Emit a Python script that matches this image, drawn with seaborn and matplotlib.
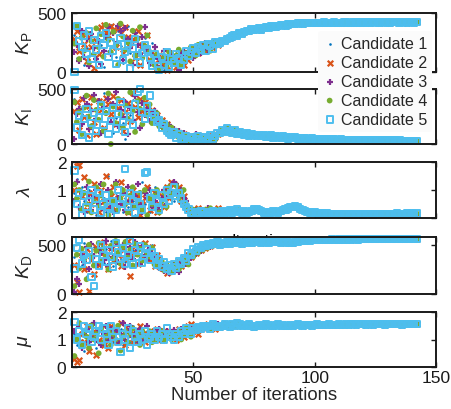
import numpy as np
import pandas as pd
import matplotlib
matplotlib.use("Agg")
import matplotlib.pyplot as plt
import seaborn as sns

# -------------------------------------------
# Values
# iterations 1..60 : each candidate separately
# iterations 61..142 : the five candidates sit on one common track
# -------------------------------------------
candidates = ["Candidate 1", "Candidate 2", "Candidate 3", "Candidate 4", "Candidate 5"]

# K_P
kp_c1 = [310, 120, 380, 250, 60, 200, 340, 150, 280, 90,
         360, 230, 40, 310, 180, 400, 270, 130, 350, 220,
         80, 300, 390, 160, 240, 330, 110, 370, 200, 290,
         140, 60, 250, 120, 40, 90, 150, 20, 70, 130,
         50, 100, 160, 60, 110, 140, 90, 170, 130, 190,
         150, 200, 180, 210, 170, 220, 200, 230, 215, 240]
kp_c2 = [280, 350, 180, 320, 240, 90, 300, 210, 30, 260,
         150, 380, 400, 340, 310, 390, 360, 210, 370, 330,
         160, 380, 300, 250, 280, 120, 350, 60, 230, 190,
         310, 100, 170, 80, 30, 140, 60, 110, 20, 160,
         90, 130, 40, 120, 170, 60, 150, 100, 180, 140,
         200, 160, 190, 230, 180, 210, 250, 200, 240, 225]
kp_c3 = [170, 230, 90, 350, 130, 280, 50, 320, 200, 110,
         260, 70, 180, 300, 380, 150, 330, 240, 390, 350,
         100, 370, 280, 200, 60, 330, 230, 150, 300, 380,
         190, 80, 140, 210, 50, 110, 30, 180, 90, 130,
         160, 70, 100, 20, 140, 180, 110, 150, 200, 120,
         170, 220, 160, 200, 250, 190, 230, 210, 260, 235]
kp_c4 = [240, 390, 110, 290, 180, 330, 80, 260, 150, 370,
         210, 320, 130, 400, 270, 170, 340, 230, 60, 410,
         300, 190, 250, 90, 350, 140, 280, 380, 120, 220,
         310, 170, 100, 60, 150, 30, 90, 120, 50, 170,
         110, 70, 140, 190, 60, 100, 160, 130, 210, 170,
         140, 230, 190, 170, 240, 210, 180, 250, 220, 245]
kp_c5 = [0, 390, 260, 210, 310, 150, 350, 110, 270, 190,
         60, 300, 230, 330, 130, 250, 180, 70, 220, 290,
         100, 170, 240, 30, 200, 280, 140, 80, 160, 230,
         190, 120, 50, 150, 100, 20, 130, 60, 170, 40,
         110, 80, 150, 120, 60, 100, 180, 140, 170, 200,
         160, 210, 190, 230, 180, 240, 220, 200, 250, 235]
kp_tail = [250, 265, 260, 280, 290, 300, 315, 310, 330, 325,
           340, 350, 345, 360, 355, 365, 372, 360, 375, 380,
           378, 386, 390, 382, 388, 395, 400, 394, 402, 405,
           410, 406, 412, 415, 411, 414, 417, 413, 416, 418,
           415, 413, 417, 419, 416, 414, 418, 420, 417, 415,
           418, 421, 419, 416, 418, 420, 422, 419, 417, 420,
           422, 420, 418, 421, 423, 420, 418, 421, 422, 420,
           419, 421, 423, 421, 420, 422, 421, 419, 421, 422,
           420, 421]

# K_I
ki_c1 = [410, 120, 350, 270, 60, 440, 300, 180, 390, 220,
         80, 330, 460, 150, 280, 370, 100, 240, 420, 310,
         190, 50, 360, 260, 400, 140, 320, 230, 380, 290,
         250, 330, 210, 280, 170, 230, 140, 190, 110, 150,
         90, 120, 70, 100, 60, 80, 50, 70, 40, 60,
         80, 50, 70, 40, 60, 90, 50, 70, 60, 80]
ki_c2 = [300, 380, 130, 410, 250, 80, 350, 430, 200, 90,
         390, 310, 150, 420, 360, 270, 440, 180, 330, 400,
         120, 290, 370, 210, 460, 340, 250, 410, 300, 380,
         350, 280, 310, 230, 260, 190, 220, 150, 180, 120,
         140, 100, 120, 80, 60, 90, 40, 70, 30, 60,
         50, 80, 40, 60, 30, 70, 50, 40, 60, 90]
ki_c3 = [50, 270, 320, 180, 420, 360, 140, 300, 450, 230,
         390, 100, 340, 280, 410, 200, 360, 470, 160, 310,
         250, 380, 90, 330, 220, 440, 290, 150, 370, 260,
         320, 210, 270, 300, 190, 240, 160, 200, 130, 170,
         110, 140, 90, 120, 70, 100, 60, 80, 50, 70,
         90, 60, 40, 70, 50, 80, 60, 40, 70, 100]
ki_c4 = [380, 200, 290, 90, 330, 440, 250, 160, 400, 310,
         220, 370, 120, 280, 460, 0, 340, 190, 410, 270,
         150, 350, 230, 470, 300, 110, 390, 320, 180, 420,
         260, 360, 190, 240, 280, 160, 210, 130, 180, 100,
         150, 80, 120, 60, 100, 40, 80, 30, 60, 20,
         50, 70, 30, 60, 40, 20, 50, 70, 40, 80]
ki_c5 = [490, 150, 260, 80, 230, 320, 60, 190, 280, 120,
         240, 350, 170, 300, 90, 210, 330, 140, 270, 380,
         200, 110, 310, 250, 170, 360, 470, 500, 290, 230,
         340, 440, 280, 250, 200, 220, 150, 180, 120, 100,
         80, 110, 60, 90, 50, 40, 70, 30, 60, 50,
         40, 70, 30, 50, 60, 40, 80, 50, 70, 100]
ki_tail = [100, 130, 110, 140, 115, 100, 125, 95, 110, 90,
           85, 100, 75, 90, 80, 70, 85, 72, 78, 65,
           70, 78, 60, 72, 65, 55, 68, 60, 50, 62,
           55, 60, 50, 45, 55, 50, 45, 40, 50, 45,
           40, 45, 38, 42, 40, 36, 44, 40, 38, 35,
           40, 37, 35, 39, 36, 34, 38, 35, 33, 36,
           34, 32, 35, 33, 31, 34, 32, 30, 33, 31,
           30, 32, 31, 29, 31, 30, 28, 30, 29, 30,
           28, 29]

# lambda
lam_c1 = [0.9, 1.4, 0.3, 1.1, 0.6, 0.2, 1.0, 0.5, 0.8, 0.1,
          1.2, 0.4, 0.7, 0.2, 1.5, 0.6, 0.3, 0.9, 0.5, 1.1,
          0.2, 0.7, 0.4, 1.0, 0.6, 0.1, 0.8, 0.3, 1.3, 0.5,
          0.9, 0.2, 0.6, 1.1, 0.4, 0.7, 1.0, 0.5, 0.8, 1.2,
          0.9, 0.6, 1.1, 0.8, 1.0, 0.7, 0.5, 0.3, 0.2, 0.25,
          0.15, 0.3, 0.2, 0.1, 0.25, 0.2, 0.3, 0.15, 0.2, 0.25]
lam_c2 = [1.0, 1.85, 1.9, 0.8, 1.45, 0.3, 0.9, 0.5, 1.2, 0.7,
          0.2, 1.0, 0.6, 1.5, 0.4, 0.8, 1.1, 0.3, 0.7, 1.3,
          0.5, 0.9, 0.2, 0.6, 1.0, 0.4, 0.8, 0.1, 0.5, 0.7,
          1.1, 0.3, 0.6, 0.9, 0.2, 0.5, 0.8, 0.4, 1.1, 0.7,
          1.3, 1.2, 0.9, 1.1, 0.6, 0.8, 0.4, 0.3, 0.2, 0.3,
          0.2, 0.35, 0.25, 0.15, 0.3, 0.2, 0.25, 0.3, 0.2, 0.35]
lam_c3 = [0.6, 1.3, 0.4, 0.9, 0.2, 1.1, 0.7, 0.3, 0.8, 1.0,
          0.5, 1.2, 0.3, 0.6, 1.0, 0.4, 0.2, 1.3, 0.7, 0.5,
          0.9, 0.3, 1.1, 0.6, 0.4, 0.8, 1.2, 0.5, 0.2, 0.9,
          0.7, 1.0, 0.4, 0.6, 0.9, 0.3, 0.7, 1.0, 0.5, 0.8,
          1.0, 1.3, 1.2, 0.9, 1.0, 0.7, 0.6, 0.4, 0.3, 0.2,
          0.3, 0.25, 0.15, 0.3, 0.2, 0.35, 0.25, 0.2, 0.3, 0.25]
lam_c4 = [1.2, 0.7, 1.0, 0.3, 0.9, 0.5, 1.3, 0.2, 0.6, 1.1,
          0.4, 0.8, 1.2, 0.5, 0.1, 0.9, 0.6, 1.2, 0.3, 0.7,
          1.0, 0.5, 0.2, 0.8, 1.1, 0.4, 0.6, 0.9, 0.3, 1.0,
          0.1, 0.7, 0.5, 0.8, 1.0, 0.2, 0.6, 0.9, 0.4, 1.1,
          0.8, 0.9, 1.15, 0.7, 0.9, 1.0, 0.5, 0.35, 0.2, 0.3,
          0.2, 0.3, 0.15, 0.25, 0.3, 0.2, 0.35, 0.25, 0.2, 0.3]
lam_c5 = [1.7, 0.5, 0.9, 0.1, 0.8, 0.4, 0.6, 1.0, 0.3, 0.7,
          0.9, 0.2, 0.5, 0.8, 0.4, 0.1, 0.6, 0.3, 1.0, 0.5,
          0.7, 1.75, 0.4, 0.9, 0.6, 0.2, 0.8, 0.5, 0.3, 1.6,
          1.65, 0.7, 0.4, 0.9, 0.6, 0.3, 0.8, 0.5, 1.0, 0.6,
          0.9, 1.1, 0.8, 0.9, 0.7, 0.5, 0.4, 0.3, 0.2, 0.1,
          0.2, 0.15, 0.25, 0.2, 0.1, 0.2, 0.15, 0.25, 0.2, 0.2]
lam_tail = [0.2, 0.25, 0.18, 0.22, 0.28, 0.2, 0.24, 0.3, 0.22, 0.18,
            0.25, 0.2, 0.22, 0.26, 0.3, 0.32, 0.28, 0.24, 0.2, 0.22,
            0.18, 0.2, 0.24, 0.22, 0.2, 0.25, 0.28, 0.3, 0.34, 0.38,
            0.4, 0.42, 0.38, 0.33, 0.28, 0.24, 0.22, 0.2, 0.18, 0.2,
            0.17, 0.16, 0.18, 0.15, 0.16, 0.14, 0.15, 0.13, 0.14, 0.15,
            0.13, 0.14, 0.12, 0.13, 0.14, 0.12, 0.13, 0.14, 0.13, 0.12,
            0.13, 0.14, 0.13, 0.12, 0.13, 0.14, 0.15, 0.14, 0.13, 0.14,
            0.15, 0.14, 0.15, 0.16, 0.15, 0.14, 0.15, 0.16, 0.15, 0.16,
            0.15, 0.16]

# K_D
kd_c1 = [380, 250, 450, 300, 520, 180, 410, 350, 480, 270,
         430, 510, 320, 460, 390, 540, 280, 420, 500, 360,
         470, 330, 520, 400, 450, 310, 490, 380, 530, 420,
         460, 350, 500, 410, 290, 380, 330, 260, 300, 240,
         280, 320, 260, 350, 300, 380, 340, 410, 390, 450,
         430, 470, 460, 490, 480, 500, 490, 510, 505, 520]
kd_c2 = [300, 120, 20, 400, 250, 460, 30, 350, 200, 480,
         300, 420, 530, 380, 250, 470, 340, 510, 400, 290,
         450, 360, 540, 180, 420, 490, 310, 460, 380, 520,
         430, 350, 480, 280, 400, 330, 260, 300, 210, 280,
         240, 310, 270, 330, 290, 360, 320, 400, 380, 430,
         420, 460, 450, 480, 470, 500, 490, 520, 500, 515]
kd_c3 = [20, 150, 100, 400, 330, 480, 250, 510, 390, 300,
         460, 420, 350, 540, 290, 470, 380, 520, 330, 440,
         500, 270, 410, 480, 360, 530, 450, 310, 490, 400,
         350, 470, 420, 380, 320, 260, 300, 230, 280, 210,
         250, 300, 270, 220, 320, 350, 310, 390, 370, 440,
         410, 460, 440, 490, 470, 500, 480, 510, 495, 520]
kd_c4 = [80, 400, 260, 460, 350, 150, 500, 380, 290, 440,
         520, 330, 470, 400, 250, 490, 360, 540, 420, 310,
         480, 530, 370, 450, 290, 510, 400, 460, 340, 500,
         420, 380, 470, 300, 350, 280, 330, 240, 300, 260,
         220, 290, 310, 250, 280, 330, 360, 300, 400, 380,
         440, 420, 470, 450, 490, 470, 510, 490, 500, 525]
kd_c5 = [260, 470, 550, 310, 400, 350, 440, 170, 80, 360,
         290, 500, 400, 330, 450, 380, 280, 520, 430, 360,
         470, 310, 400, 540, 300, 450, 380, 490, 320, 420,
         460, 350, 430, 390, 300, 350, 280, 320, 260, 290,
         240, 300, 270, 330, 310, 370, 340, 420, 400, 460,
         440, 480, 470, 500, 490, 510, 500, 520, 510, 525]
kd_tail = [500, 520, 510, 530, 505, 525, 515, 535, 520, 510,
           530, 540, 525, 515, 535, 545, 530, 520, 540, 535,
           525, 540, 530, 545, 535, 520, 530, 540, 525, 515,
           520, 530, 535, 540, 545, 540, 548, 545, 550, 548,
           552, 550, 548, 553, 550, 552, 555, 552, 550, 554,
           556, 553, 555, 557, 554, 556, 558, 555, 557, 556,
           558, 557, 559, 556, 558, 560, 557, 559, 558, 560,
           559, 561, 558, 560, 559, 561, 560, 559, 561, 560,
           561, 560]

# mu
mu_c1 = [1.2, 0.8, 1.5, 1.0, 0.6, 1.3, 0.9, 1.6, 1.1, 0.7,
         1.4, 1.0, 1.2, 0.8, 1.5, 1.1, 0.9, 1.3, 1.0, 1.4,
         0.8, 1.2, 1.1, 0.9, 1.5, 1.0, 1.3, 1.2, 0.9, 1.1,
         1.3, 1.0, 1.2, 1.1, 1.4, 1.0, 1.2, 1.3, 1.1, 1.2,
         1.0, 1.3, 1.2, 1.1, 1.3, 1.2, 1.4, 1.3, 1.2, 1.4,
         1.3, 1.5, 1.4, 1.35, 1.45, 1.4, 1.5, 1.45, 1.4, 1.5]
mu_c2 = [0.3, 0.2, 0.25, 1.2, 0.9, 1.5, 0.6, 1.1, 1.3, 0.45,
         1.0, 1.4, 0.8, 1.2, 0.7, 1.5, 1.0, 1.3, 0.9, 1.6,
         1.1, 0.8, 1.4, 1.2, 0.9, 1.3, 1.0, 1.5, 1.1, 0.9,
         1.2, 1.3, 1.0, 1.2, 1.4, 1.1, 1.0, 1.3, 1.2, 1.1,
         1.3, 1.2, 1.0, 1.4, 1.2, 1.1, 1.3, 1.5, 1.55, 1.3,
         1.4, 1.2, 1.45, 1.5, 1.4, 1.55, 1.45, 1.5, 1.4, 1.5]
mu_c3 = [1.3, 1.0, 1.5, 0.7, 1.2, 1.4, 0.9, 1.1, 1.6, 1.0,
         1.3, 0.8, 1.2, 1.5, 1.0, 1.4, 1.1, 1.3, 0.9, 1.2,
         1.6, 1.0, 1.3, 1.5, 1.1, 1.2, 0.9, 1.4, 1.3, 1.0,
         1.5, 1.2, 1.1, 1.3, 1.0, 1.4, 1.2, 1.1, 1.3, 1.25,
         1.2, 1.35, 1.1, 1.3, 1.4, 1.2, 1.3, 1.35, 1.4, 1.3,
         1.45, 1.4, 1.35, 1.5, 1.45, 1.4, 1.5, 1.45, 1.5, 1.55]
mu_c4 = [0.4, 1.0, 1.6, 0.8, 1.3, 1.1, 0.7, 1.5, 1.0, 1.2,
         0.5, 1.4, 0.9, 1.1, 1.3, 0.8, 1.2, 1.0, 1.5, 0.6,
         1.1, 1.3, 0.9, 1.2, 1.4, 1.0, 1.2, 0.8, 1.3, 1.1,
         1.0, 1.3, 0.9, 1.2, 1.0, 1.1, 1.3, 1.0, 1.2, 1.1,
         1.0, 1.2, 1.1, 1.3, 1.0, 1.2, 1.4, 1.3, 1.1, 1.35,
         1.4, 1.3, 1.45, 1.4, 1.5, 1.45, 1.4, 1.5, 1.55, 1.45]
mu_c5 = [1.65, 1.0, 1.3, 0.8, 1.5, 1.2, 1.4, 0.9, 1.1, 1.3,
         1.5, 1.0, 1.4, 1.2, 0.8, 1.5, 1.1, 1.3, 0.9, 0.55,
         1.2, 1.0, 1.4, 0.7, 1.3, 1.1, 0.9, 1.2, 1.0, 1.3,
         0.8, 1.1, 1.2, 1.0, 1.3, 1.1, 1.2, 1.0, 1.4, 1.2,
         1.1, 1.0, 1.2, 1.1, 1.3, 1.2, 1.4, 1.3, 1.2, 1.4,
         1.35, 1.45, 1.4, 1.5, 1.45, 1.5, 1.4, 1.55, 1.5, 1.45]
mu_tail = [1.45, 1.5, 1.55, 1.5, 1.45, 1.55, 1.5, 1.6, 1.55, 1.5,
           1.52, 1.48, 1.55, 1.5, 1.45, 1.5, 1.53, 1.48, 1.5, 1.55,
           1.52, 1.5, 1.48, 1.52, 1.55, 1.5, 1.52, 1.48, 1.5, 1.53,
           1.5, 1.52, 1.55, 1.53, 1.5, 1.52, 1.54, 1.52, 1.5, 1.53,
           1.55, 1.53, 1.52, 1.54, 1.53, 1.55, 1.54, 1.52, 1.53, 1.55,
           1.54, 1.53, 1.55, 1.54, 1.56, 1.55, 1.54, 1.55, 1.56, 1.55,
           1.54, 1.56, 1.55, 1.54, 1.56, 1.55, 1.56, 1.55, 1.54, 1.56,
           1.55, 1.56, 1.55, 1.56, 1.55, 1.54, 1.56, 1.55, 1.56, 1.55,
           1.56, 1.55]

heads = {
    "KP": [kp_c1, kp_c2, kp_c3, kp_c4, kp_c5],
    "KI": [ki_c1, ki_c2, ki_c3, ki_c4, ki_c5],
    "lam": [lam_c1, lam_c2, lam_c3, lam_c4, lam_c5],
    "KD": [kd_c1, kd_c2, kd_c3, kd_c4, kd_c5],
    "mu": [mu_c1, mu_c2, mu_c3, mu_c4, mu_c5],
}
tails = {"KP": kp_tail, "KI": ki_tail, "lam": lam_tail, "KD": kd_tail, "mu": mu_tail}

rows = []
for p in heads:
    assert len(tails[p]) == 82, p
    for cand, head in zip(candidates, heads[p]):
        assert len(head) == 60, (p, cand)
        for i, v in enumerate(head + tails[p], start=1):
            rows.append((p, cand, i, v))
df = pd.DataFrame(rows, columns=["param", "candidate", "iteration", "value"])

# -------------------------------------------
# Styling (MATLAB-like look)
# -------------------------------------------
sns.set_style("ticks")
plt.rcParams["font.family"] = ["Liberation Sans", "DejaVu Sans"]
plt.rcParams["mathtext.fontset"] = "custom"
plt.rcParams["mathtext.rm"] = "Liberation Sans"
plt.rcParams["mathtext.it"] = "Liberation Sans:italic"
plt.rcParams["axes.linewidth"] = 1.4
plt.rcParams["axes.edgecolor"] = "#1a1a1a"

colors = ["#0072BD", "#D95319", "#7E2F8E", "#77AC30", "#4DBEEE"]
styles = [
    dict(marker=".", s=14, linewidth=0),
    dict(marker="x", s=16, linewidth=1.6),
    dict(marker="+", s=24, linewidth=1.6),
    dict(marker="o", s=17, edgecolor="none"),
    dict(marker="s", s=20, facecolor="none", linewidth=1.4),
]

panels = [
    ("KP", r"$K_\mathrm{P}$", (0, 500), [0, 500], (14, 73)),
    ("KI", r"$K_\mathrm{I}$", (0, 500), [0, 500], (90, 145)),
    ("lam", r"$\lambda$", (0, 2), [0, 1, 2], (163, 219)),
    ("KD", r"$K_\mathrm{D}$", (0, 580), [0, 500], (238, 295)),
    ("mu", r"$\mu$", (0, 2), [0, 1, 2], (313, 368)),
]

W, H = 452, 410
fig = plt.figure(figsize=(W / 100, H / 100), dpi=100)

axes = []
for p, ylab, ylim, yticks, (top, bot) in panels:
    ax = fig.add_axes([72 / W, 1 - bot / H, 364 / W, (bot - top) / H])
    sub = df[df["param"] == p]
    for cand, col, st in zip(candidates, colors, styles):
        kw = dict(st)
        if kw.get("facecolor") == "none":
            kw["edgecolor"] = col
        sns.scatterplot(data=sub[sub["candidate"] == cand], x="iteration", y="value",
                        color=col, ax=ax, legend=False, label=cand, clip_on=False, **kw)
    ax.set_xlim(0, 150)
    ax.set_ylim(*ylim)
    ax.set_yticks(yticks)
    ax.set_xticks([50, 100, 150])
    ax.tick_params(direction="in", length=3.5, width=1, top=True, right=True,
                   labelsize=12.5, pad=4, colors="#1a1a1a")
    ax.tick_params(axis="x", pad=2.5)
    ax.set_xlabel("")
    ax.set_ylabel(ylab, fontsize=14)
    ax.yaxis.set_label_coords(-0.104, 0.5)
    if p != "mu":
        ax.tick_params(labelbottom=False)
    axes.append(ax)

# stray title text that sits behind the K_D data
axes[3].text(78, 540, "Iteration", fontsize=12, ha="center", va="center",
             color="black", zorder=0.5, clip_on=False)

axes[-1].set_xlabel("Number of iterations", fontsize=13.3, va="bottom")
axes[-1].xaxis.set_label_coords(0.5, -(404 - 368) / 55)

handles, labels = axes[0].get_legend_handles_labels()
fig.legend(handles, labels, loc="upper right", bbox_to_anchor=(432 / W, 1 - 32 / H),
           fontsize=11.5, frameon=True, facecolor="#fbfbfb", edgecolor="none",
           framealpha=1, labelspacing=0.25, borderpad=0.3, handletextpad=0.3,
           handlelength=0.8, borderaxespad=0)

fig.savefig("out.png", dpi=100)
